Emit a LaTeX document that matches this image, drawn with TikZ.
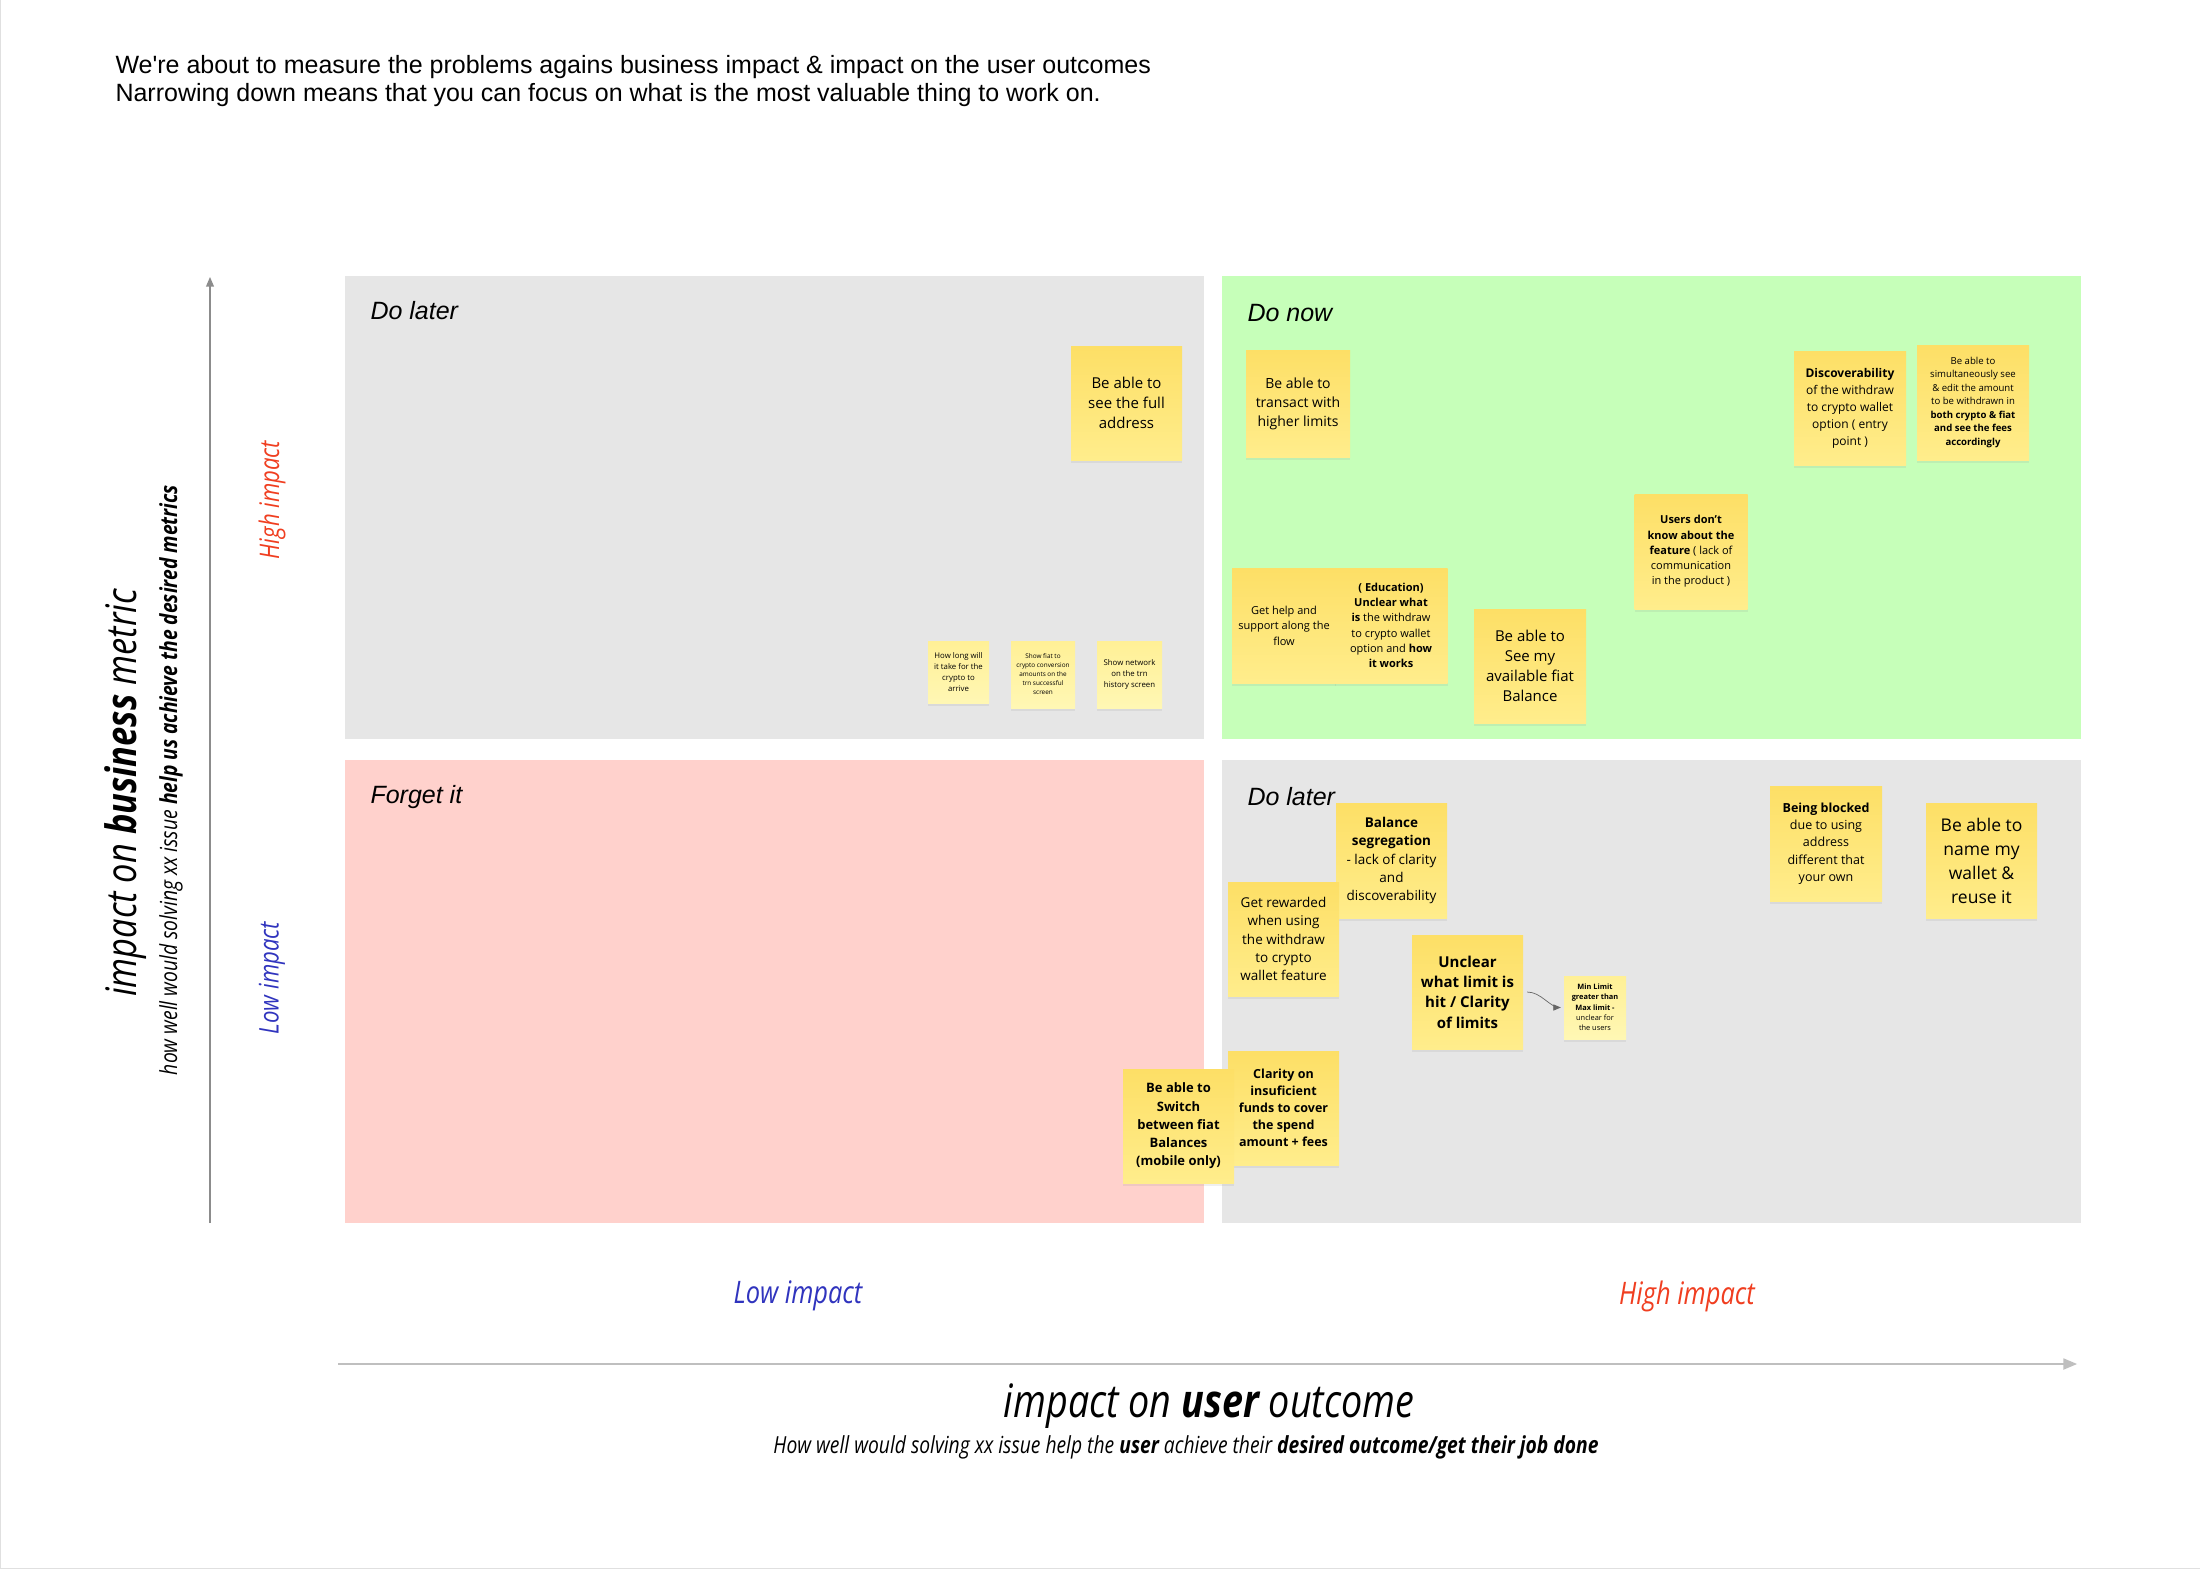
\documentclass[tikz,border=0pt]{standalone}
\usepackage{fontspec}
\setmainfont{Open Sans}
\newfontfamily\headfont{Liberation Sans}
\newfontfamily\axisfont{Open Sans}[FakeStretch=0.82]
\usetikzlibrary{arrows,shadows}

\definecolor{quadgray}{RGB}{230,230,230}
\definecolor{quadgreen}{RGB}{198,255,185}
\definecolor{quadpink}{RGB}{255,209,204}
\definecolor{notetop}{RGB}{253,223,102}
\definecolor{notebot}{RGB}{255,237,140}
\definecolor{paletop}{RGB}{255,240,150}
\definecolor{palebot}{RGB}{255,247,180}
\definecolor{hired}{RGB}{240,62,32}
\definecolor{loblue}{RGB}{48,52,190}

\newcommand{\nfs}[2]{\fontsize{#1}{#2}\selectfont}

\begin{document}
\begin{tikzpicture}[x=1pt, y=-1pt,
	note/.style={rectangle, inner sep=0pt, align=center, minimum width=111, minimum height=114,
		top color=notetop, bottom color=notebot,
		drop shadow={shadow xshift=0pt, shadow yshift=-2.5pt, opacity=0.12}},
	pale/.style={note, top color=paletop, bottom color=palebot},
	title/.style={anchor=west, font=\headfont\itshape\nfs{25}{30}},
	axistitle/.style={font=\axisfont\itshape\nfs{46}{54}},
	axissub/.style={font=\axisfont\itshape\nfs{23.5}{28}},
	level/.style={font=\axisfont\itshape\nfs{31}{36}}]

	\useasboundingbox[fill=white] (0,0) rectangle (2200,1581);
	\draw[black!12, line width=1] (0.5,0) -- (0.5,1568) -- (2200,1568);

	% intro text
	\node[anchor=base west, font=\headfont\nfs{25}{28}] (intro1) at (112,74) {We're about to measure the problems agains business impact \& impact on the user outcomes};
	\node[anchor=base west, font=\headfont\nfs{25}{28}] (intro2) at (112,102) {Narrowing down means that you can focus on what is the most valuable thing to work on.};

	% quadrants
	\fill[quadgray] (345,276) rectangle (1204,739);
	\fill[quadgreen] (1222,276) rectangle (2081,739);
	\fill[quadpink] (345,760) rectangle (1204,1223);
	\fill[quadgray] (1222,760) rectangle (2081,1223);

	\node[title] (later1) at (367,311) {Do later};
	\node[title] (donow) at (1244,313) {Do now};
	\node[title] (forget) at (367,797) {Forget it};
	\node[title] (later2) at (1244,797) {Do later};

	% axes
	\coordinate (ybot) at (210,1223);
	\coordinate (ytop) at (210,277);
	\draw[black!45, line width=1.2, ->, >=triangle 45] (ybot) -- (ytop);
	\coordinate (xleft) at (338,1364);
	\coordinate (xright) at (2077,1364);
	\draw[black!25, line width=2.2, ->, >=triangle 45] (xleft) -- (xright);

	\node[axistitle, rotate=90, font=\axisfont\itshape\nfs{42}{50}] (ytitle) at (126,793) {impact on \textbf{business} metric};
	\node[axissub, rotate=90] (ysub) at (171,780) {how well would solving xx issue \textbf{help us achieve the desired metrics}};
	\node[level, rotate=90, text=hired, font=\axisfont\itshape\nfs{27}{32}] (yhigh) at (272,500) {High impact};
	\node[level, rotate=90, text=loblue, font=\axisfont\itshape\nfs{27}{32}] (ylow) at (272,978) {Low impact};

	\node[level, text=loblue] (xlow) at (798,1296) {Low impact};
	\node[level, text=hired] (xhigh) at (1687,1296) {High impact};
	\node[axistitle] (xtitle) at (1209,1406) {impact on \textbf{user} outcome};
	\node[axissub] (xsub) at (1186,1447) {How well would solving xx issue help the \textbf{user} achieve their \textbf{desired outcome/get their job done}};

	% do later (top)
	\node[note, font=\nfs{15}{20.3}] (fulladdr) at (1126.5,403) {Be able to\\see the full\\address};
	\node[pale, minimum width=61, minimum height=62, font=\nfs{7.8}{11}] (howlong) at (958.5,672) {How long will\\it take for the\\crypto to\\arrive};
	\node[pale, minimum width=64, minimum height=67, font=\nfs{6.4}{9}] (fiatconv) at (1043,674.5) {Show fiat to\\crypto conversion\\amounts on the\\trn successful\\screen};
	\node[pale, minimum width=65, minimum height=67, font=\nfs{7.8}{10.7}] (network) at (1129.5,674.5) {Show network\\on the trn\\history screen};

	% do now
	\node[note, minimum width=104, minimum height=107, font=\nfs{14}{19}] (higher) at (1298,403.5) {Be able to\\transact with\\higher limits};
	\node[note, minimum width=112, font=\nfs{12}{17}] (discover) at (1850,408) {\textbf{Discoverability}\\of the withdraw\\to crypto wallet\\option ( entry\\point )};
	\node[note, minimum width=112, minimum height=115, font=\nfs{9.6}{13.5}] (simul) at (1973,402.5) {Be able to\\simultaneously see\\\& edit the amount\\to be withdrawn in\\\textbf{both crypto \& fiat}\\\textbf{and see the fees}\\\textbf{accordingly}};
	\node[note, minimum width=113, minimum height=115, font=\nfs{11}{15.3}] (nofeat) at (1691,551.5) {\textbf{Users don't}\\\textbf{know about the}\\\textbf{feature} ( lack of\\communication\\in the product )};
	\node[note, minimum width=104, minimum height=115, font=\nfs{11}{15.5}] (gethelp) at (1284,625.5) {Get help and\\support along the\\flow};
	\node[note, minimum width=113, minimum height=115, font=\nfs{11}{15.3}] (educ) at (1391,625.5) {\textbf{( Education)}\\\textbf{Unclear what}\\\textbf{is} the withdraw\\to crypto wallet\\option and \textbf{how}\\\textbf{it works}};
	\node[note, minimum width=112, font=\nfs{15}{20}] (fiatbal) at (1530,666) {Be able to\\See my\\available fiat\\Balance};

	% do later (bottom)
	\node[note, minimum height=115, font=\nfs{13.5}{18.3}] (balseg) at (1391.5,860.5) {\textbf{Balance}\\\textbf{segregation}\\- lack of clarity\\and\\discoverability};
	\node[note, font=\nfs{13.5}{18.3}] (reward) at (1283.5,939) {Get rewarded\\when using\\the withdraw\\to crypto\\wallet feature};
	\node[note, font=\nfs{15}{20.3}] (unclear) at (1467.5,992) {\textbf{Unclear}\\\textbf{what limit is}\\\textbf{hit / Clarity}\\\textbf{of limits}};
	\node[pale, minimum width=62, minimum height=63, font=\nfs{7.4}{10.3}] (minmax) at (1595,1007.5) {\textbf{Min Limit}\\\textbf{greater than}\\\textbf{Max limit -}\\unclear for\\the users};
	\draw[black!60, line width=0.7, ->, >=triangle 45, shorten <=4pt, shorten >=3pt] (unclear.east) .. controls +(18,0) and +(-14,0) .. (minmax.west);
	\node[note, font=\nfs{12.5}{17}] (funds) at (1283.5,1108) {\textbf{Clarity on}\\\textbf{insuficient}\\\textbf{funds to cover}\\\textbf{the spend}\\\textbf{amount + fees}};
	\node[note, font=\nfs{13}{18.3}] (switch) at (1178.5,1126) {\textbf{Be able to}\\\textbf{Switch}\\\textbf{between fiat}\\\textbf{Balances}\\\textbf{(mobile only)}};
	\node[note, minimum width=112, minimum height=115, font=\nfs{12.5}{17.3}] (blocked) at (1826,843.5) {\textbf{Being blocked}\\due to using\\address\\different that\\your own};
	\node[note, minimum height=115, font=\nfs{17.5}{24}] (namewallet) at (1981.5,860.5) {Be able to\\name my\\wallet \&\\reuse it};
\end{tikzpicture}
\end{document}
